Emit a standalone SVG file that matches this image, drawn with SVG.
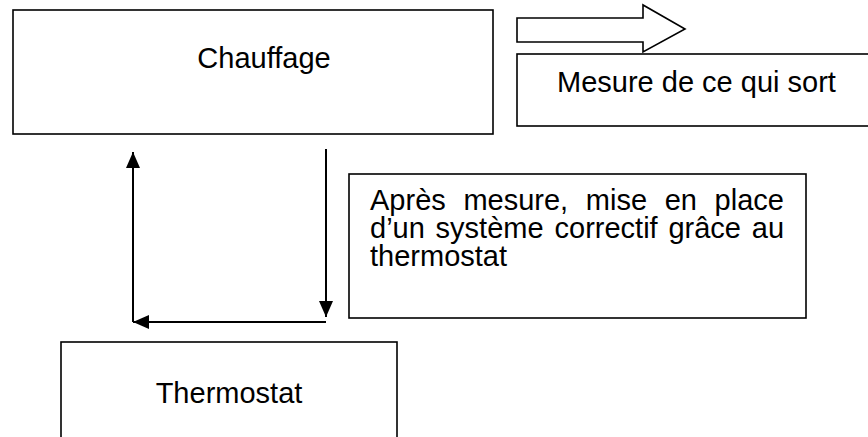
<svg xmlns="http://www.w3.org/2000/svg" width="868" height="437" viewBox="0 0 868 437">
<style>
.box{fill:#fff;stroke:#000;stroke-width:1.6}
.lbl{font-family:"Liberation Sans",Arial,sans-serif;font-size:29px;fill:#000}
.conn{fill:none;stroke:#000;stroke-width:2}
</style>
<defs>
<marker id="ah" markerUnits="userSpaceOnUse" markerWidth="16" markerHeight="16" viewBox="0 0 16 16" refX="16" refY="8" orient="auto">
<path d="M0,1 L16,8 L0,15 Z" fill="#000"/>
</marker>
</defs>
<rect width="868" height="437" fill="#fff"/>
<g id="chauffage">
<rect class="box" x="13" y="10" width="480" height="124"/>
<text class="lbl" x="264" y="68" text-anchor="middle">Chauffage</text>
</g>
<g id="sortie-fleche">
<path class="box" d="M517,18 L643,18 L643,5 L685,29 L643,52 L643,42 L517,42 Z"/>
</g>
<g id="mesure">
<rect class="box" x="517" y="54" width="400" height="72"/>
<text class="lbl" x="557" y="92">Mesure de ce qui sort</text>
</g>
<g id="note">
<rect class="box" x="349" y="174" width="457" height="144"/>
<text class="lbl" y="210"><tspan x="370">Après</tspan><tspan x="463.4">mesure,</tspan><tspan x="585.8">mise</tspan><tspan x="664.7">en</tspan><tspan x="714.6">place</tspan></text>
<text class="lbl" y="238"><tspan x="370">d’un</tspan><tspan x="435.6">système</tspan><tspan x="554.5">correctif</tspan><tspan x="668.4">grâce</tspan><tspan x="751.8">au</tspan></text>
<text class="lbl" x="370" y="266">thermostat</text>
</g>
<g id="thermostat">
<rect class="box" x="61" y="342" width="336" height="120"/>
<text class="lbl" x="229" y="403" text-anchor="middle">Thermostat</text>
</g>
<g id="connectors">
<line class="conn" x1="326" y1="149" x2="326" y2="317" marker-end="url(#ah)"/>
<line class="conn" x1="326" y1="322" x2="133" y2="322" marker-end="url(#ah)"/>
<line class="conn" x1="133" y1="322" x2="133" y2="152" marker-end="url(#ah)"/>
</g>
</svg>
